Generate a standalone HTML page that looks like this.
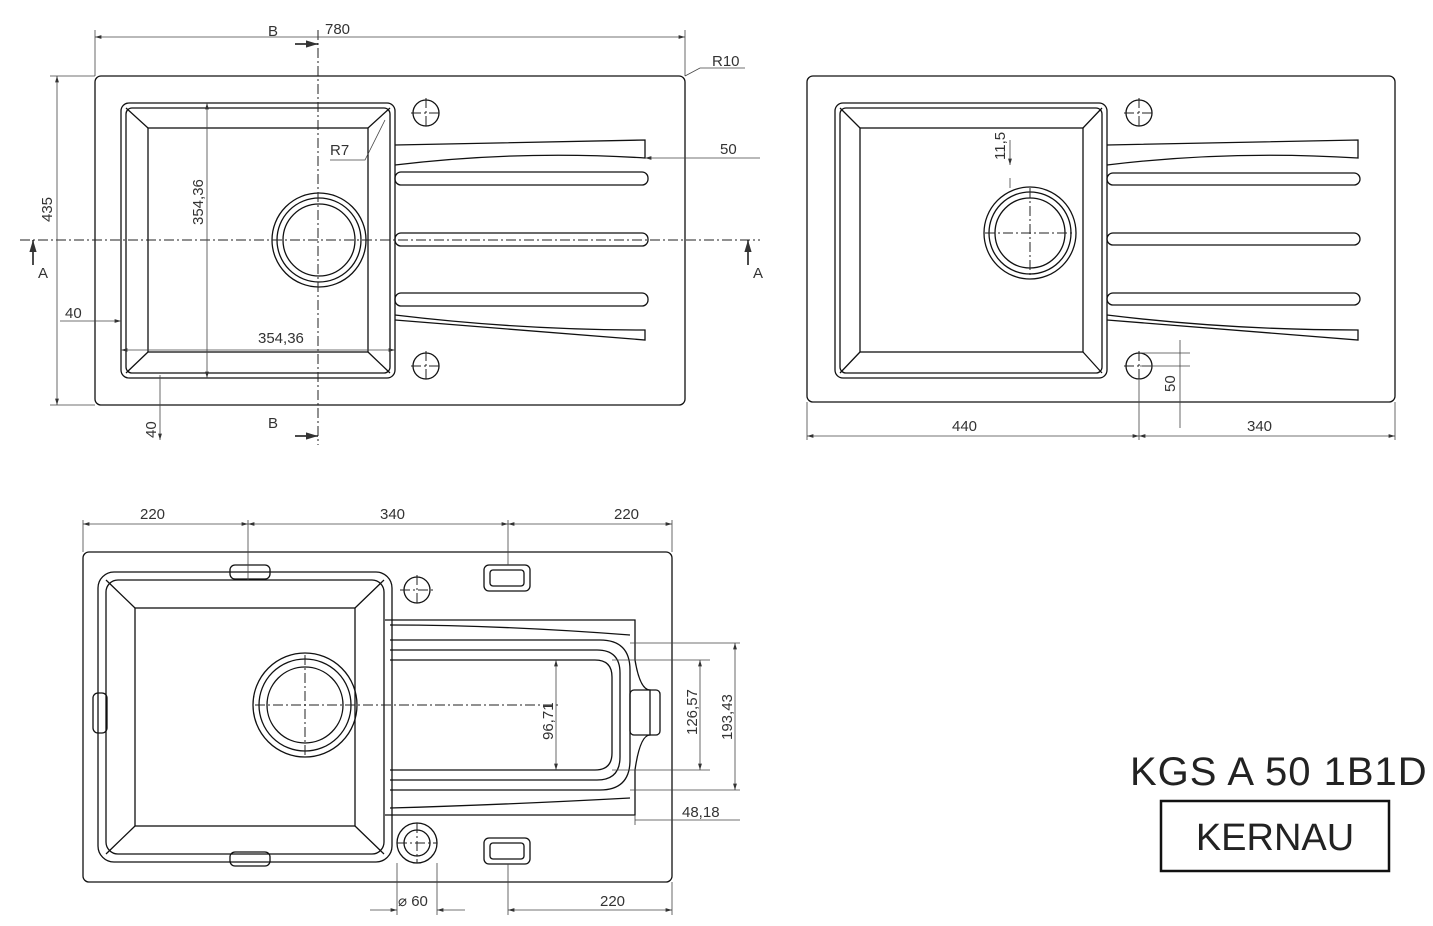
<!DOCTYPE html>
<html><head><meta charset="utf-8"><style>
html,body{margin:0;padding:0;background:#fff;}
svg{display:block;font-family:"Liberation Sans",sans-serif;}
text{fill:#333;font-size:15px;}
</style></head><body>
<svg width="1433" height="926" viewBox="0 0 1433 926" xmlns="http://www.w3.org/2000/svg">
<defs>
<marker id="ar" viewBox="0 0 10 10" refX="10" refY="5" markerWidth="8" markerHeight="8" orient="auto-start-reverse"><path d="M0,2 L10,5 L0,8z" fill="#333"/></marker>
</defs>
<g fill="none" stroke="#111" stroke-width="1.3">
<rect x="95" y="76" width="590" height="329" rx="6"/>
<rect x="121" y="103" width="274" height="275" rx="8"/>
<rect x="126" y="108" width="264" height="265" rx="6"/>
<rect x="148" y="128" width="220" height="224"/>
<path d="M126,108 L148,128 M390,108 L368,128 M126,373 L148,352 M390,373 L368,352"/>
<circle cx="319" cy="240" r="47"/><circle cx="319" cy="240" r="42"/><circle cx="319" cy="240" r="36"/>
<path d="M395,145 L645,140 L645,158 Q520,150 395,165"/>
<path d="M395,315 Q520,330 645,330 L645,340 L395,320"/>
<rect x="395" y="172" width="253" height="13" rx="6"/>
<rect x="395" y="233" width="253" height="13" rx="6"/>
<rect x="395" y="293" width="253" height="13" rx="6"/>
<circle cx="426" cy="113" r="13"/><circle cx="426" cy="366" r="13"/>
<rect x="807" y="76" width="588" height="326" rx="6"/>
<rect x="835" y="103" width="272" height="275" rx="8"/>
<rect x="840" y="108" width="262" height="265" rx="6"/>
<rect x="860" y="128" width="223" height="224"/>
<path d="M840,108 L860,128 M1102,108 L1083,128 M840,373 L860,352 M1102,373 L1083,352"/>
<circle cx="1030" cy="233" r="46"/><circle cx="1030" cy="233" r="41"/><circle cx="1030" cy="233" r="35"/>
<path d="M1107,145 L1358,140 L1358,158 Q1230,150 1107,165"/>
<path d="M1107,315 Q1230,330 1358,330 L1358,340 L1107,320"/>
<rect x="1107" y="173" width="253" height="12" rx="6"/>
<rect x="1107" y="233" width="253" height="12" rx="6"/>
<rect x="1107" y="293" width="253" height="12" rx="6"/>
<circle cx="1139" cy="113" r="13"/><circle cx="1139" cy="366" r="13"/>
<rect x="83" y="552" width="589" height="330" rx="6"/>
<rect x="98" y="572" width="294" height="290" rx="16"/>
<rect x="106" y="580" width="278" height="274" rx="12"/>
<rect x="135" y="608" width="220" height="218"/>
<path d="M106,580 L135,608 M384,580 L355,608 M106,854 L135,826 M384,854 L355,826"/>
<circle cx="305" cy="705" r="52"/><circle cx="305" cy="705" r="46"/><circle cx="305" cy="705" r="38"/>
<rect x="230" y="565" width="40" height="14" rx="5"/><rect x="230" y="852" width="40" height="14" rx="5"/>
<rect x="93" y="693" width="14" height="40" rx="5"/>
<rect x="484" y="565" width="46" height="26" rx="5"/><rect x="490" y="570" width="34" height="16" rx="3"/>
<rect x="484" y="838" width="46" height="26" rx="5"/><rect x="490" y="843" width="34" height="16" rx="3"/>
<circle cx="417" cy="590" r="13"/>
<circle cx="417" cy="843" r="20"/><circle cx="417" cy="843" r="13"/>
<path d="M385,620 L635,620 L635,660 Q640,690 650,690 L650,735 Q640,735 635,770 L635,815 L385,815"/>
<path d="M390,640 L600,640 Q630,640 630,670 L630,760 Q630,790 600,790 L390,790"/>
<path d="M390,650 L597,650 Q620,650 620,673 L620,757 Q620,780 597,780 L390,780"/>
<path d="M390,660 L595,660 Q612,660 612,677 L612,753 Q612,770 595,770 L390,770"/>
<rect x="630" y="690" width="30" height="45" rx="4"/>
<path d="M390,625 Q500,625 630,635 M390,808 Q500,805 630,798"/>
<rect x="1161" y="801" width="228" height="70" stroke-width="2.5"/>
</g>
<g stroke="#222" stroke-width="1" stroke-dasharray="10,3,2,3" fill="none">
<path d="M20,240 H760 M318,30 V445"/>
<path d="M411,113 H441 M426,98 V128 M411,366 H441 M426,351 V381"/>
<path d="M985,233 H1075 M1030,188 V278 M1124,113 H1154 M1139,98 V128 M1124,366 H1154 M1139,351 V381"/>
<path d="M255,705 H560 M305,655 V755 M400,590 H434 M417,575 V605 M397,843 H437 M417,823 V863"/>
</g>
<g stroke="#444" stroke-width="0.8" fill="none">
<path d="M95,30 V76 M685,30 V76" /><path d="M95,37 H685" marker-start="url(#ar)" marker-end="url(#ar)"/>
<path d="M50,76 H95 M50,405 H95"/><path d="M57,76 V405" marker-start="url(#ar)" marker-end="url(#ar)"/>
<path d="M207,103 V378" marker-start="url(#ar)" marker-end="url(#ar)"/>
<path d="M121,350 H395" marker-start="url(#ar)" marker-end="url(#ar)"/>
<path d="M60,321 H121" marker-end="url(#ar)"/>
<path d="M160,375 V440" marker-end="url(#ar)"/>
<path d="M645,158 H760" marker-start="url(#ar)"/>
<path d="M330,160 H365 L385,120"/>
<path d="M685,76 L700,68 H745"/>
<path d="M807,402 V440 M1139,380 V440 M1395,402 V440"/>
<path d="M807,436 H1139" marker-start="url(#ar)" marker-end="url(#ar)"/>
<path d="M1139,436 H1395" marker-start="url(#ar)" marker-end="url(#ar)"/>
<path d="M1010,140 V165" marker-end="url(#ar)"/><path d="M1010,178 V188" />
<path d="M1180,340 V428 M1140,353 H1190 M1140,366 H1190"/>
<path d="M83,520 V552 M248,520 V580 M508,520 V565 M672,520 V552"/>
<path d="M83,524 H248" marker-start="url(#ar)" marker-end="url(#ar)"/>
<path d="M248,524 H508" marker-start="url(#ar)" marker-end="url(#ar)"/>
<path d="M508,524 H672" marker-start="url(#ar)" marker-end="url(#ar)"/>
<path d="M508,864 V915 M672,882 V915 M397,863 V915 M437,863 V915"/>
<path d="M508,910 H672" marker-start="url(#ar)" marker-end="url(#ar)"/>
<path d="M370,910 H397" marker-end="url(#ar)"/><path d="M465,910 H437" marker-end="url(#ar)"/>
<path d="M556,660 V770" marker-start="url(#ar)" marker-end="url(#ar)"/>
<path d="M630,643 H740 M630,790 H740 M612,660 H710 M612,770 H710"/>
<path d="M700,660 V770" marker-start="url(#ar)" marker-end="url(#ar)"/>
<path d="M735,643 V790" marker-start="url(#ar)" marker-end="url(#ar)"/>
<path d="M635,815 V825 M660,820 H740 M635,820 H660"/>
</g>
<g stroke="#111" stroke-width="1.5" fill="none">
<path d="M295,44 H318" marker-end="url(#ar)"/><path d="M295,436 H318" marker-end="url(#ar)"/>
<path d="M33,265 V240" marker-end="url(#ar)"/><path d="M748,265 V240" marker-end="url(#ar)"/>
</g>
<text x="325" y="34">780</text>
<text x="712" y="66">R10</text>
<text x="268" y="36">B</text><text x="268" y="428">B</text>
<text x="38" y="278">A</text><text x="753" y="278">A</text>
<text x="330" y="155">R7</text>
<text x="720" y="154">50</text>
<text x="65" y="318">40</text>
<text x="258" y="343">354,36</text>
<text transform="translate(52,222) rotate(-90)">435</text>
<text transform="translate(203,225) rotate(-90)">354,36</text>
<text transform="translate(156,438) rotate(-90)">40</text>
<text x="952" y="431">440</text>
<text x="1247" y="431">340</text>
<text transform="translate(1005,160) rotate(-90)">11,5</text>
<text transform="translate(1175,392) rotate(-90)">50</text>
<text x="140" y="519">220</text>
<text x="380" y="519">340</text>
<text x="614" y="519">220</text>
<text x="600" y="906">220</text>
<text x="398" y="906">⌀ 60</text>
<text x="682" y="817">48,18</text>
<text transform="translate(553,740) rotate(-90)">96,71</text>
<text transform="translate(697,735) rotate(-90)">126,57</text>
<text transform="translate(732,740) rotate(-90)">193,43</text>
<text x="1130" y="785" style="font-size:40px;fill:#222;letter-spacing:1px">KGS A 50 1B1D</text>
<text x="1275" y="850" text-anchor="middle" style="font-size:38px;fill:#222">KERNAU</text>
</svg>
</body></html>
